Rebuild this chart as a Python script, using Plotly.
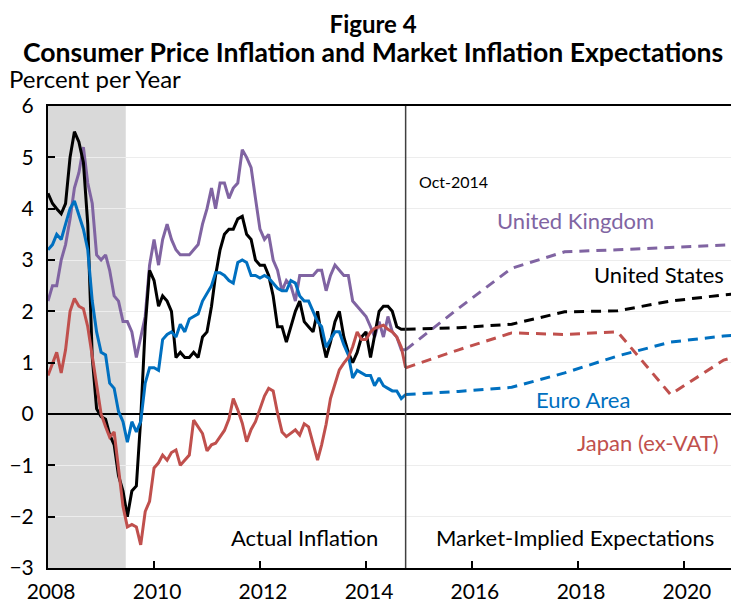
import plotly.graph_objects as go
import pandas as pd

# ---------------- data ----------------
months = pd.date_range("2008-01-01", "2014-10-01", freq="MS").strftime("%Y-%m-%d").tolist()

us_cpi = [4.3, 4.1, 4.0, 3.9, 4.1, 5.0, 5.5, 5.3, 4.9, 3.7, 1.1, 0.1,
          -0.05, -0.1, -0.4, -0.6, -1.2, -1.5, -2.0, -1.5, -1.4, -0.1, 1.7, 2.8,
          2.6, 2.1, 2.3, 2.2, 2.0, 1.1, 1.2, 1.1, 1.1, 1.2, 1.1, 1.5,
          1.6, 2.1, 2.7, 3.2, 3.5, 3.6, 3.6, 3.8, 3.85, 3.5, 3.4, 3.0,
          2.9, 2.9, 2.7, 2.3, 1.7, 1.7, 1.4, 1.7, 2.0, 2.2, 1.8, 1.7,
          1.6, 2.0, 1.5, 1.1, 1.4, 1.8, 2.0, 1.5, 1.2, 1.0, 1.2, 1.5,
          1.6, 1.1, 1.5, 2.0, 2.1, 2.1, 2.0, 1.7, 1.65, 1.65]

uk_cpi = [2.2, 2.5, 2.5, 3.0, 3.3, 3.8, 4.4, 4.7, 5.2, 4.5, 4.1, 3.1,
          3.0, 3.1, 2.8, 2.3, 2.2, 1.8, 1.8, 1.6, 1.1, 1.5, 1.9, 2.9,
          3.4, 2.9, 3.4, 3.7, 3.4, 3.2, 3.1, 3.1, 3.1, 3.2, 3.3, 3.7,
          4.0, 4.4, 4.0, 4.5, 4.5, 4.2, 4.4, 4.5, 5.15, 5.0, 4.8, 4.2,
          3.6, 3.4, 3.5, 3.0, 2.8, 2.4, 2.6, 2.5, 2.2, 2.7, 2.7, 2.7,
          2.7, 2.8, 2.8, 2.4, 2.7, 2.9, 2.8, 2.7, 2.7, 2.2, 2.1, 2.0,
          1.9, 1.7, 1.5, 1.8, 1.5, 1.9, 1.6, 1.5, 1.25, 1.25]

ea_hicp = [3.2, 3.3, 3.5, 3.4, 3.7, 4.0, 4.15, 3.85, 3.6, 3.2, 2.2, 1.6,
           1.2, 1.15, 0.6, 0.5, 0.05, -0.15, -0.55, -0.15, -0.35, -0.15, 0.6, 0.9,
           0.9, 0.85, 1.45, 1.55, 1.6, 1.5, 1.75, 1.6, 1.85, 1.9, 1.95, 2.2,
           2.35, 2.5, 2.75, 2.75, 2.7, 2.6, 2.55, 2.95, 3.0, 2.95, 2.7, 2.7,
           2.65, 2.7, 2.65, 2.55, 2.45, 2.4, 2.4, 2.6, 2.55, 2.3, 2.2, 2.2,
           2.0, 1.8, 1.7, 1.3, 1.45, 1.6, 1.6, 1.35, 1.15, 0.7, 0.85, 0.8,
           0.75, 0.75, 0.55, 0.7, 0.55, 0.5, 0.45, 0.45, 0.3, 0.38]

jp_cpi = [0.75, 1.0, 1.2, 0.8, 1.25, 2.0, 2.25, 2.1, 2.05, 1.7, 1.1, 0.5,
          0.0, -0.25, -0.45, -0.35, -1.1, -1.8, -2.2, -2.15, -2.2, -2.55, -1.9, -1.7,
          -1.05, -0.95, -0.8, -0.9, -0.75, -0.7, -1.0, -0.9, -0.8, -0.12, -0.25, -0.38,
          -0.72, -0.6, -0.57, -0.45, -0.32, -0.1, 0.3, 0.08, -0.18, -0.54, -0.3, -0.15,
          0.08, 0.35, 0.5, 0.45, 0.02, -0.35, -0.44, -0.38, -0.31, -0.41, -0.19, -0.25,
          -0.57, -0.9, -0.6, -0.2, 0.3, 0.6, 0.86, 0.99, 1.1, 1.31, 1.6, 1.45,
          1.45, 1.6, 1.67, 1.7, 1.73, 1.65, 1.6, 1.5, 1.3, 0.9]

exp_dates = ["2014-10-01", "2015-10-01", "2016-10-01", "2017-10-01",
             "2018-10-01", "2019-10-01", "2020-10-01", "2021-01-01"]
us_exp = [1.65, 1.68, 1.75, 1.99, 2.01, 2.2, 2.32, 2.34]
uk_exp = [1.25, 2.06, 2.84, 3.16, 3.2, 3.24, 3.29, 3.3]
ea_exp = [0.38, 0.44, 0.52, 0.8, 1.13, 1.4, 1.52, 1.54]
jp_exp = [0.9, 1.25, 1.58, 1.55, 1.6, 0.38, 1.05, 1.12]

rec_start, rec_end = "2008-01-01", "2009-06-20"
cutoff_date = "2014-10-01"
x_range = ["2008-01-01", "2021-01-01"]
tick_years = ["2008", "2010", "2012", "2014", "2016", "2018", "2020"]
y_ticks = [-3, -2, -1, 0, 1, 2, 3, 4, 5, 6]

# ---------------- style ----------------
FONT = "Lato"
C_US, C_UK, C_EA, C_JP = "#000000", "#8064A2", "#0070C0", "#C0504D"
DASH = "10px,7px"
LW = 3

# page body has an 8px default margin: figure is sized so that it fills the window
PAGE_OFF = 8
W, H = 739 - PAGE_OFF, 607 - PAGE_OFF
PL, PT, PR, PB = 48, 106, 737, 568  # plot area in window pixels

fig = go.Figure()

series = [
    ("United Kingdom", uk_cpi, uk_exp, C_UK),
    ("United States", us_cpi, us_exp, C_US),
    ("Euro Area", ea_hicp, ea_exp, C_EA),
    ("Japan (ex-VAT)", jp_cpi, jp_exp, C_JP),
]
for name, act, exp, col in series:
    fig.add_trace(go.Scatter(x=months, y=act, mode="lines", name=name,
                             line=dict(color=col, width=LW), showlegend=False))
for name, act, exp, col in series:
    fig.add_trace(go.Scatter(x=exp_dates, y=exp, mode="lines", name=name + " exp.",
                             line=dict(color=col, width=LW, dash=DASH), showlegend=False))

# recession shading
fig.add_shape(type="rect", xref="x", yref="paper", x0=rec_start, x1=rec_end,
              y0=0, y1=1, fillcolor="#D9D9D9", line=dict(width=0), layer="below")
# cutoff line
fig.add_shape(type="line", xref="x", yref="paper", x0=cutoff_date, x1=cutoff_date,
              y0=0, y1=1, line=dict(color="#404040", width=1.5))

fig.update_layout(
    width=W, height=H,
    margin=dict(l=PL - PAGE_OFF, r=W - (PR - PAGE_OFF), t=PT - PAGE_OFF, b=H - (PB - PAGE_OFF)),
    paper_bgcolor="white", plot_bgcolor="white",
    font=dict(family=FONT, color="black"),
    showlegend=False,
)
fig.update_xaxes(
    type="date", range=x_range, automargin=False,
    tickvals=[f"{y}-01-01" for y in tick_years], ticktext=tick_years,
    ticks="inside", ticklen=7, tickwidth=1.5, tickcolor="black",
    ticklabelstandoff=4, ticklabelshift=3,
    showline=True, linecolor="black", linewidth=2, mirror=True,
    showgrid=False, tickfont=dict(size=21, family=FONT, color="black"),
)
fig.update_yaxes(
    range=[-3, 6], tickvals=y_ticks, automargin=False,
    ticks="inside", ticklen=7, tickwidth=1.5, tickcolor="black",
    ticklabelstandoff=8,
    showline=True, linecolor="black", linewidth=2, mirror=True,
    showgrid=True, gridcolor="#EDEDED", gridwidth=1,
    zeroline=True, zerolinecolor="black", zerolinewidth=2,
    tickfont=dict(size=21, family=FONT, color="black"),
)

def px_x(px):
    return (px - PL) / float(PR - PL)

def px_y(py):
    return (PB - py) / float(PB - PT)

def note(text, x, y, size, color="black", xanchor="center", yanchor="middle"):
    fig.add_annotation(text=text, xref="paper", yref="paper",
                       x=px_x(x), y=px_y(y), xanchor=xanchor, yanchor=yanchor,
                       showarrow=False, borderpad=0,
                       font=dict(size=size, color=color, family=FONT))

title_text = ("<b><span style='font-size:24px'>Figure 4</span></b><br>"
              "<b><span style='font-size:26.6px'>Consumer Price Inflation and Market Inflation Expectations</span></b>")
note(title_text, 373, 38, 22)
note("Percent per Year", 8, 79, 24, xanchor="left")
note("Oct-2014", 418, 181, 16, xanchor="left")
note("United Kingdom", 575, 220, 22, color=C_UK)
note("United States", 659, 274, 22, color=C_US)
note("Euro Area", 583, 399, 22, color=C_EA)
note("Japan (ex-VAT)", 648, 442, 22, color=C_JP)
note("Actual Inflation", 304, 537, 22)
note("Market-Implied Expectations", 575, 537, 22)

fig.write_html("out.html")
